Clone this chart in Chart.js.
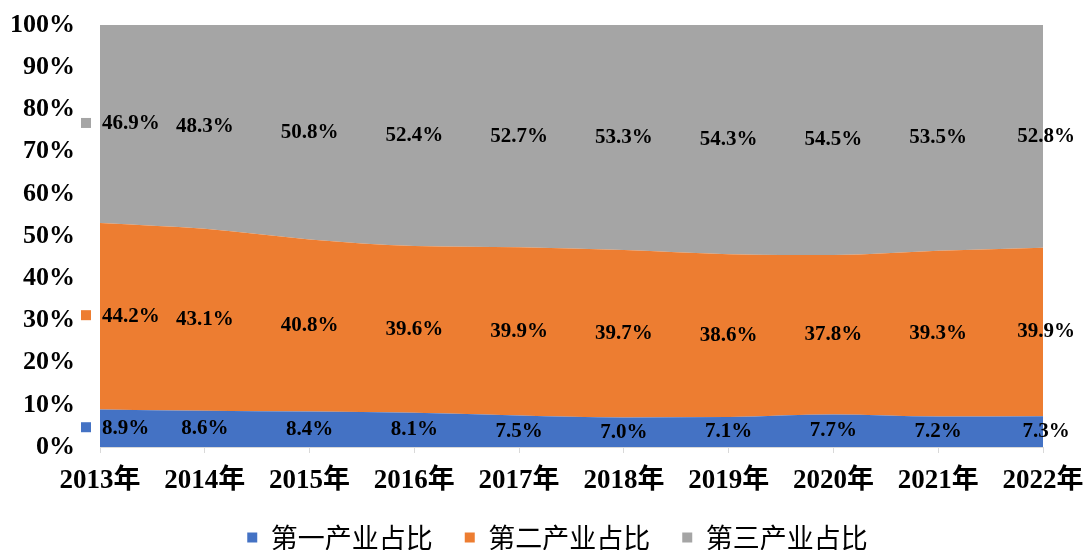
<!DOCTYPE html>
<html>
<head>
<meta charset="utf-8">
<script src="https://cdn.jsdelivr.net/npm/chart.js@4/dist/chart.umd.min.js"></script>
<style>
  html, body { margin: 0; padding: 0; background: #fff; }
  #wrap { width: 1087px; height: 550px; }
</style>
</head>
<body>
<div id="wrap"><canvas id="chart" width="1087" height="550"></canvas></div>
<script>
const years = ['2013年', '2014年', '2015年', '2016年', '2017年', '2018年', '2019年', '2020年', '2021年', '2022年'];
const primary = [8.9, 8.6, 8.4, 8.1, 7.5, 7.0, 7.1, 7.7, 7.2, 7.3];
const secondary = [44.2, 43.1, 40.8, 39.6, 39.9, 39.7, 38.6, 37.8, 39.3, 39.9];
const tertiary = [46.9, 48.3, 50.8, 52.4, 52.7, 53.3, 54.3, 54.5, 53.5, 52.8];
const seriesNames = ['第一产业占比', '第二产业占比', '第三产业占比'];
const colors = ['#4472C4', '#ED7D31', '#A5A5A5'];

const serif = '"Liberation Serif", "Times New Roman", "Noto Sans CJK SC", serif';

// 100% stacked: share of each year's total
const totals = years.map((_, i) => primary[i] + secondary[i] + tertiary[i]);
const share = (arr) => arr.map((v, i) => v / totals[i] * 100);
const raw = [primary, secondary, tertiary];

const makeSet = (i) => ({
  label: seriesNames[i],
  data: share(raw[i]),
  backgroundColor: colors[i],
  borderColor: colors[i],
  borderWidth: 0,
  pointRadius: 0,
  fill: i === 0 ? 'origin' : '-1',
  cubicInterpolationMode: 'monotone',
});

// labels in the middle of each band, with legend key next to the first one
const bandLabels = {
  id: 'bandLabels',
  afterLayout(chart) {
    // legend sits a bit right of centre in the original
    chart.legend.left += 36;
    chart.legend.right += 36;
  },
  afterDatasetsDraw(chart) {
    const { ctx, scales } = chart;
    ctx.save();
    ctx.font = 'bold 21px ' + serif;
    ctx.fillStyle = '#000';
    ctx.textBaseline = 'middle';
    years.forEach((_, i) => {
      let base = 0;
      raw.forEach((arr, s) => {
        const v = share(arr)[i];
        const y = scales.y.getPixelForValue(base + v / 2);
        base += v;
        const x = scales.x.getPixelForValue(i);
        const txt = arr[i].toFixed(1) + '%';
        if (i === 0) {
          ctx.fillStyle = colors[s];
          ctx.fillRect(x - 19, y - 6, 10, 10);
          ctx.fillStyle = '#000';
          ctx.textAlign = 'left';
          ctx.fillText(txt, x + 2, y);
        } else {
          ctx.textAlign = 'center';
          ctx.fillText(txt, i === years.length - 1 ? x + 3 : x, y);
        }
      });
    });
    ctx.restore();
  }
};

new Chart('chart', {
  type: 'line',
  data: {
    labels: years,
    datasets: [makeSet(0), makeSet(1), makeSet(2)],
  },
  plugins: [bandLabels],
  options: {
    responsive: false,
    animation: false,
    layout: { padding: { top: 25, right: 44, left: 0, bottom: -11 } },
    plugins: {
      tooltip: { enabled: false },
      legend: {
        position: 'bottom',
        labels: {
          boxWidth: 10,
          boxHeight: 10,
          padding: 32,
          color: '#000',
          font: { family: '"Noto Sans CJK SC", serif', size: 27 },
        },
      },
    },
    scales: {
      x: {
        offset: false,
        grid: { display: true, drawOnChartArea: false, tickLength: 6, color: '#d9d9d9' },
        border: { color: '#d9d9d9' },
        ticks: {
          color: '#000',
          padding: 12,
          maxRotation: 0,
          font: { family: serif, size: 27, weight: 'bold' },
        },
        afterFit(scale) {
          scale.height = 45;
          scale.paddingLeft = 0;
          scale.paddingRight = 0;
        },
      },
      y: {
        stacked: true,
        min: 0,
        max: 100,
        grid: { display: false },
        border: { display: false },
        ticks: {
          stepSize: 10,
          padding: 17,
          color: '#000',
          font: { family: serif, size: 26, weight: 'bold' },
          callback: (v) => v + '%',
        },
        afterFit(scale) {
          scale.width = 100;
          scale.paddingTop = 0;
          scale.paddingBottom = 0;
        },
      },
    },
  },
});
</script>
</body>
</html>
